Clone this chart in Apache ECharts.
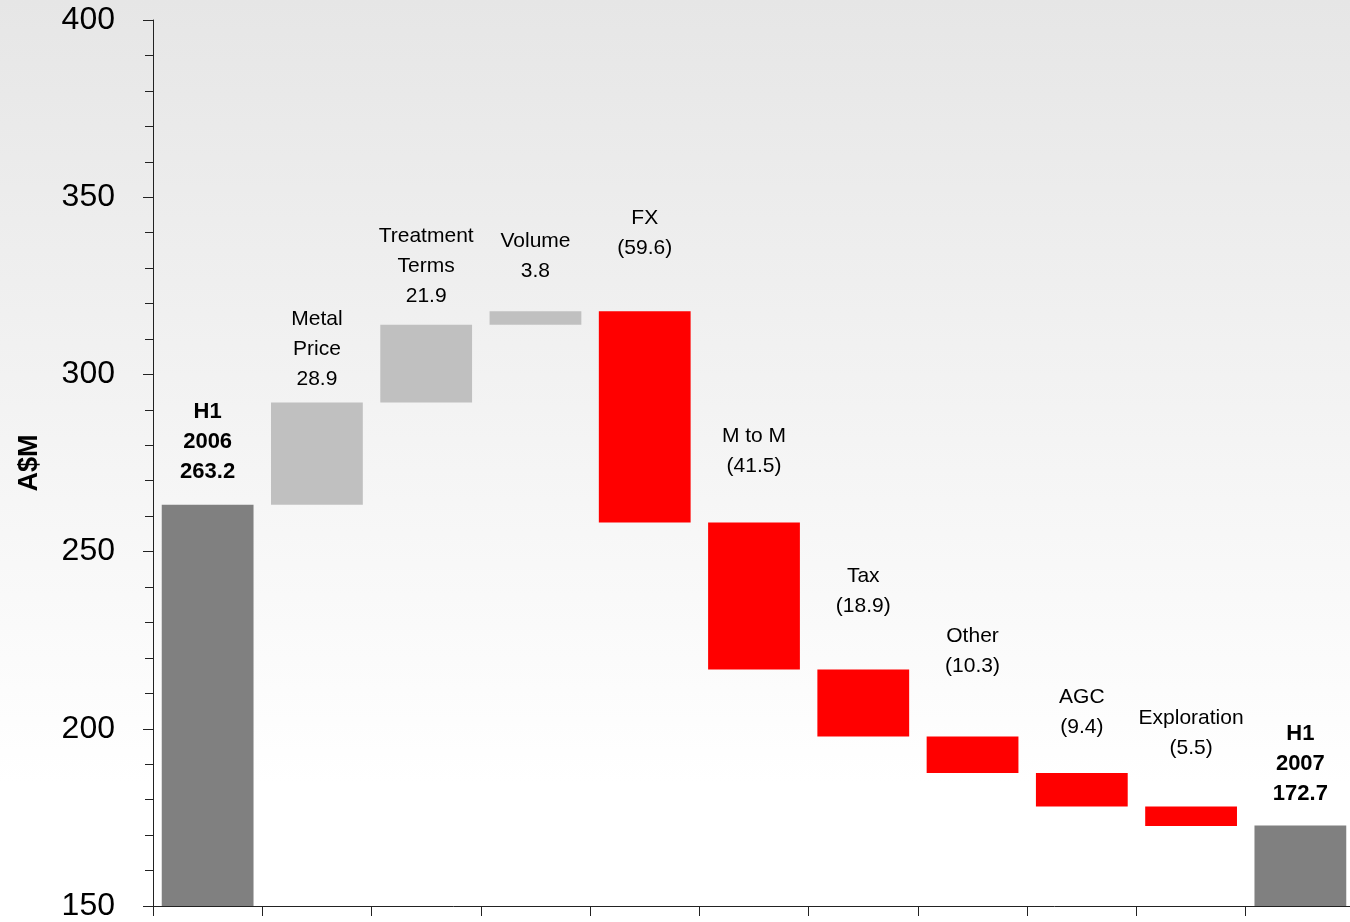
<!DOCTYPE html>
<html>
<head>
<meta charset="utf-8">
<script src="https://cdn.jsdelivr.net/npm/echarts@6/dist/echarts.min.js"></script>
<style>html,body{margin:0;padding:0;overflow:hidden;width:1350px;height:922px;}#c{width:1356px;height:922px;}</style>
</head>
<body>
<div id="c"></div>
<script>
const categories = ['H1 2006','Metal Price','Treatment Terms','Volume','FX','M to M','Tax','Other','AGC','Exploration','H1 2007'];
const labelNames = ['H1\n2006','Metal\nPrice','Treatment\nTerms','Volume','FX','M to M','Tax','Other','AGC','Exploration','H1\n2007'];
const startValue = 263.2;
const endValue = 172.7;
const changes = [28.9, 21.9, 3.8, -59.6, -41.5, -18.9, -10.3, -9.4, -5.5];
const yTicks = [150, 200, 250, 300, 350, 400];

// label gap above each bar (styling only, in px)
const labelGap = [18, 8, 14, 25, 48, 41, 48, 55, 31, 43, 17];

const base = [], visible = [];
base.push(0); visible.push({value: startValue, kind: 'total', text: startValue.toFixed(1)});
let run = startValue;
changes.forEach(d => {
  const next = run + d;
  base.push(Math.min(run, next));
  visible.push({value: Math.abs(d), kind: d >= 0 ? 'up' : 'down',
    text: d >= 0 ? d.toFixed(1) : '(' + Math.abs(d).toFixed(1) + ')'});
  run = next;
});
base.push(0); visible.push({value: endValue, kind: 'total', text: endValue.toFixed(1)});

const colors = {total: '#808080', up: '#c0c0c0', down: '#ff0000'};

const chart = echarts.init(document.getElementById('c'), null, {renderer: 'canvas'});
chart.setOption({
  animation: false,
  backgroundColor: {type: 'linear', x: 0, y: 0, x2: 0, y2: 1,
    colorStops: [{offset: 0, color: '#e6e6e6'}, {offset: 0.85, color: '#ffffff'}, {offset: 1, color: '#ffffff'}]},
  grid: {left: 153, top: 20, width: 1202, height: 888, containLabel: false},
  xAxis: {
    type: 'category', data: categories,
    axisLine: {lineStyle: {color: '#222', width: 1}},
    axisTick: {show: true, interval: 0, length: 10, lineStyle: {color: '#222'}},
    axisLabel: {show: false, interval: 0},
    splitLine: {show: false}
  },
  yAxis: {
    type: 'value', min: yTicks[0], max: yTicks[yTicks.length - 1], interval: 50,
    name: 'A$M', nameLocation: 'middle', nameRotate: 90, nameGap: 110,
    nameTextStyle: {fontFamily: 'Liberation Sans, Arial', fontSize: 27, fontWeight: 'bold', color: '#000'},
    axisLine: {show: true, lineStyle: {color: '#222', width: 1}},
    axisTick: {show: true, length: 10, lineStyle: {color: '#222'}},
    minorTick: {show: true, splitNumber: 5, length: 8, lineStyle: {color: '#222'}},
    axisLabel: {fontFamily: 'Liberation Sans, Arial', fontSize: 32, color: '#000', margin: 38},
    splitLine: {show: false}
  },
  series: [
    {type: 'bar', stack: 'w', data: base, itemStyle: {color: 'transparent'}, barWidth: '84%', silent: true},
    {type: 'bar', stack: 'w', barWidth: '84%',
      data: visible.map((v, i) => ({
        value: v.value,
        itemStyle: {color: colors[v.kind]},
        label: {
          show: true, position: 'top', distance: labelGap[i],
          formatter: labelNames[i] + '\n' + v.text,
          fontFamily: 'Liberation Sans, Arial',
          fontSize: v.kind === 'total' ? 22 : 21,
          fontWeight: v.kind === 'total' ? 'bold' : 'normal',
          lineHeight: 30, color: '#000', align: 'center'
        }
      }))
    }
  ]
});
</script>
</body>
</html>
